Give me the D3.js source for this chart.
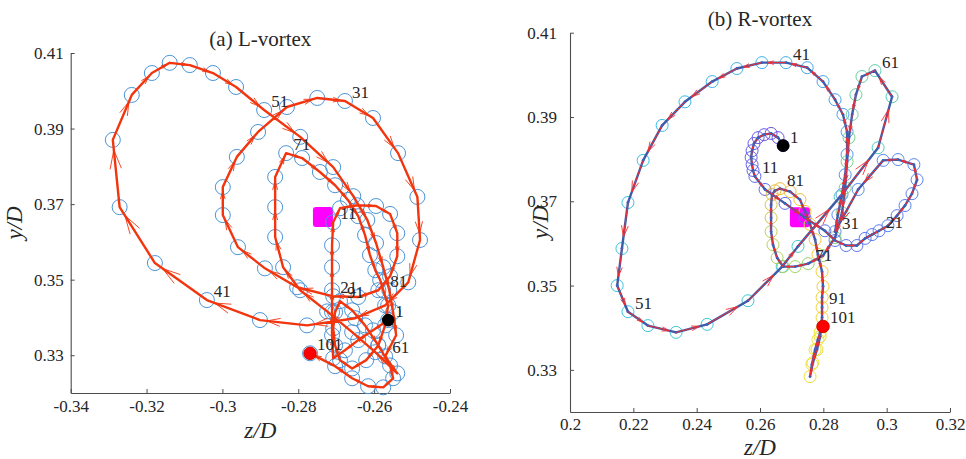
<!DOCTYPE html>
<html>
<head>
<meta charset="utf-8">
<script src="https://cdn.jsdelivr.net/npm/d3@7"></script>
<style>
  body { margin: 0; background: #fff; }
  svg text { font-family: "Liberation Serif", "Times New Roman", serif; fill: #262626; }
</style>
</head>
<body>
<div id="chart"></div>
<script>
// ---- data: vortex centre track, 101 snapshots per panel ----
const leftZ = [
  -0.2563, -0.2603, -0.2642, -0.2677, -0.2708, -0.2711, -0.2711, -0.2711, -0.2711, -0.2711,
  -0.2708, -0.2690, -0.2645, -0.2595, -0.2558, -0.2539, -0.2539, -0.2558, -0.2589, -0.2642,
  -0.2708, -0.2803, -0.2888, -0.2959, -0.2999, -0.2999, -0.2962, -0.2906, -0.2830, -0.2750,
  -0.2677, -0.2603, -0.2537, -0.2486, -0.2479, -0.2510, -0.2571, -0.2650, -0.2777, -0.2901,
  -0.3041, -0.3178, -0.3271, -0.3289, -0.3239, -0.3186, -0.3139, -0.3086, -0.3025, -0.2964,
  -0.2890, -0.2795, -0.2708, -0.2655, -0.2618, -0.2595, -0.2576, -0.2560, -0.2550, -0.2542,
  -0.2571, -0.2539, -0.2597, -0.2658, -0.2724, -0.2795, -0.2840, -0.2861, -0.2861, -0.2861,
  -0.2832, -0.2790, -0.2743, -0.2703, -0.2669, -0.2642, -0.2624, -0.2611, -0.2597, -0.2584,
  -0.2576, -0.2563, -0.2571, -0.2589, -0.2621, -0.2658, -0.2690, -0.2703, -0.2708, -0.2703,
  -0.2690, -0.2658, -0.2624, -0.2589, -0.2558, -0.2550, -0.2576, -0.2616, -0.2658, -0.2703,
  -0.2769
];
const leftY = [
  0.3393, 0.3366, 0.3340, 0.3313, 0.3292, 0.3353, 0.3414, 0.3472, 0.3533, 0.3591,
  0.3652, 0.3689, 0.3697, 0.3695, 0.3674, 0.3623, 0.3562, 0.3509, 0.3472, 0.3454,
  0.3456, 0.3480, 0.3530, 0.3586, 0.3671, 0.3745, 0.3825, 0.3891, 0.3957, 0.3981,
  0.3973, 0.3928, 0.3835, 0.3719, 0.3605, 0.3493, 0.3432, 0.3398, 0.3379, 0.3393,
  0.3446, 0.3544, 0.3692, 0.3870, 0.3989, 0.4047, 0.4074, 0.4068, 0.4047, 0.4010,
  0.3949, 0.3878, 0.3798, 0.3721, 0.3658, 0.3597, 0.3533, 0.3472, 0.3414, 0.3353,
  0.3297, 0.3252, 0.3308, 0.3361, 0.3416, 0.3472, 0.3533, 0.3613, 0.3692, 0.3772,
  0.3835, 0.3822, 0.3785, 0.3750, 0.3711, 0.3668, 0.3618, 0.3565, 0.3525, 0.3499,
  0.3472, 0.3432, 0.3379, 0.3326, 0.3287, 0.3265, 0.3287, 0.3326, 0.3371, 0.3414,
  0.3443, 0.3419, 0.3379, 0.3326, 0.3273, 0.3239, 0.3215, 0.3218, 0.3239, 0.3271,
  0.3305
];
const rightZ = [
  0.2673, 0.2657, 0.2635, 0.2613, 0.2594, 0.2581, 0.2575, 0.2572, 0.2575, 0.2578,
  0.2584, 0.2616, 0.2679, 0.2742, 0.2805, 0.2837, 0.2872, 0.2906, 0.2932, 0.2954,
  0.2976, 0.3004, 0.3033, 0.3058, 0.3080, 0.3096, 0.3086, 0.3036, 0.2989, 0.2910,
  0.2837, 0.2846, 0.2859, 0.2869, 0.2875, 0.2875, 0.2862, 0.2837, 0.2799, 0.2749,
  0.2682, 0.2606, 0.2527, 0.2449, 0.2363, 0.2291, 0.2231, 0.2183, 0.2164, 0.2149,
  0.2183, 0.2246, 0.2335, 0.2433, 0.2562, 0.2670, 0.2720, 0.2853, 0.2973, 0.3017,
  0.2963, 0.2922, 0.2903, 0.2891, 0.2881, 0.2875, 0.2869, 0.2859, 0.2837, 0.2799,
  0.2752, 0.2711, 0.2673, 0.2654, 0.2641, 0.2635, 0.2635, 0.2635, 0.2638, 0.2647,
  0.2663, 0.2695, 0.2726, 0.2742, 0.2758, 0.2774, 0.2783, 0.2796, 0.2799, 0.2796,
  0.2796, 0.2796, 0.2790, 0.2780, 0.2767, 0.2758, 0.2764, 0.2774, 0.2783, 0.2790,
  0.2799
];
const rightY = [
  0.3832, 0.3851, 0.3861, 0.3858, 0.3851, 0.3837, 0.3820, 0.3804, 0.3787, 0.3773,
  0.3759, 0.3728, 0.3695, 0.3661, 0.3630, 0.3607, 0.3595, 0.3595, 0.3612, 0.3621,
  0.3630, 0.3642, 0.3666, 0.3690, 0.3718, 0.3751, 0.3787, 0.3799, 0.3797, 0.3728,
  0.3628, 0.3668, 0.3716, 0.3763, 0.3811, 0.3865, 0.3906, 0.3941, 0.3984, 0.4017,
  0.4029, 0.4029, 0.4015, 0.3984, 0.3936, 0.3880, 0.3797, 0.3697, 0.3588, 0.3500,
  0.3438, 0.3405, 0.3389, 0.3408, 0.3464, 0.3545, 0.3593, 0.3711, 0.3827, 0.3948,
  0.4010, 0.3996, 0.3953, 0.3906, 0.3851, 0.3794, 0.3732, 0.3673, 0.3614, 0.3571,
  0.3552, 0.3545, 0.3545, 0.3566, 0.3597, 0.3628, 0.3661, 0.3692, 0.3716, 0.3725,
  0.3730, 0.3723, 0.3704, 0.3676, 0.3645, 0.3609, 0.3574, 0.3533, 0.3498, 0.3472,
  0.3448, 0.3424, 0.3379, 0.3348, 0.3317, 0.3284, 0.3313, 0.3348, 0.3372, 0.3389,
  0.3403
];
const leftMean = [-0.2735, 0.3666];
const rightMean = [0.2726, 0.3662];
const labelSteps = [1, 11, 21, 31, 41, 51, 61, 71, 81, 91, 101];
const leftXTicks = [-0.34, -0.32, -0.3, -0.28, -0.26, -0.24];
const rightXTicks = [0.2, 0.22, 0.24, 0.26, 0.28, 0.3, 0.32];
const yTicks = [0.33, 0.35, 0.37, 0.39, 0.41];

const W = 966, H = 459;
const svg = d3.select("#chart").append("svg")
  .attr("width", W).attr("height", H)
  .style("display", "block");

// one panel = axes + track
function drawPanel(cfg) {
  const x = d3.scaleLinear().domain(cfg.xDomain).range([cfg.left, cfg.right]);
  const y = d3.scaleLinear().domain([0.32, 0.41]).range([cfg.bottom, cfg.top]);
  const g = svg.append("g");
  const pts = cfg.zs.map((z, i) => ({ i: i + 1, px: x(z), py: y(cfg.ys[i]) }));

  // axes (ticks pointing inward, no box)
  const xAxis = d3.axisBottom(x).tickValues(cfg.xTicks).tickSizeInner(-4).tickSizeOuter(0)
    .tickPadding(cfg.xPad).tickFormat(d => String(+d.toFixed(2)));
  const yAxis = d3.axisLeft(y).tickValues(yTicks).tickSizeInner(-4).tickSizeOuter(0)
    .tickPadding(cfg.yPad).tickFormat(d => String(+d.toFixed(2)));
  const gx = g.append("g").attr("transform", `translate(0,${cfg.bottom})`).call(xAxis);
  const gy = g.append("g").attr("transform", `translate(${cfg.left},0)`).call(yAxis);
  [gx, gy].forEach(a => {
    a.select(".domain").attr("stroke", "#4d4d4d").attr("stroke-width", 1.1);
    a.selectAll(".tick line").attr("stroke", "#4d4d4d");
    a.selectAll(".tick text").style("font-size", "17px").attr("fill", "#262626")
      .style("font-family", '"Liberation Serif", serif');
  });

  // mean position
  g.append("rect")
    .attr("x", x(cfg.mean[0]) - 10).attr("y", y(cfg.mean[1]) - 10)
    .attr("width", 20).attr("height", 20).attr("rx", 3)
    .attr("fill", "#ff00ff");

  // circles at every snapshot
  g.append("g").selectAll("circle").data(pts).enter().append("circle")
    .attr("cx", d => d.px).attr("cy", d => d.py).attr("r", cfg.ringR)
    .attr("fill", "none")
    .attr("stroke", d => cfg.ringColor(d.i))
    .attr("stroke-width", 1);

  // track line
  const line = d3.line().x(d => d.px).y(d => d.py);
  g.append("path").datum(pts).attr("d", line)
    .attr("fill", "none").attr("stroke", cfg.lineColor)
    .attr("stroke-width", cfg.lineW).attr("stroke-linejoin", "round");

  if (cfg.dots) {
    g.append("g").selectAll("circle").data(pts).enter().append("circle")
      .attr("cx", d => d.px).attr("cy", d => d.py).attr("r", 1.4)
      .attr("fill", cfg.dots);
  }

  // quiver arrows (matlab-style open head)
  const arr = [];
  for (let k = 0; k < pts.length - 1; k++) {
    const a = pts[k], b = pts[k + 1];
    const u = (b.px - a.px) * cfg.qScale, v = (b.py - a.py) * cfg.qScale;
    const tx = a.px + u, ty = a.py + v;
    const al = 0.33, be = 0.3;
    arr.push(`M${a.px},${a.py}L${tx},${ty}` +
      `M${tx - al * (u + be * v)},${ty - al * (v - be * u)}L${tx},${ty}` +
      `L${tx - al * (u - be * v)},${ty - al * (v + be * u)}`);
  }
  g.append("path").attr("d", arr.join(""))
    .attr("fill", "none").attr("stroke", cfg.arrowColor).attr("stroke-width", 0.9);

  // start / end
  const p0 = pts[0], pN = pts[pts.length - 1];
  g.append("circle").attr("cx", p0.px).attr("cy", p0.py).attr("r", 6.3).attr("fill", "#000");
  g.append("circle").attr("cx", pN.px).attr("cy", pN.py).attr("r", 6.3)
    .attr("fill", "#ff0000").attr("stroke", "#c00000").attr("stroke-width", 0.8);

  // step labels
  g.append("g").selectAll("text").data(labelSteps).enter().append("text")
    .attr("x", d => pts[d - 1].px + 7).attr("y", d => pts[d - 1].py - 9)
    .attr("dy", "0.35em").style("font-size", "17px").text(d => d);

  // titles
  g.append("text").attr("x", (cfg.left + cfg.right) / 2).attr("y", cfg.titleY)
    .attr("text-anchor", "middle").style("font-size", "21px").text(cfg.title);
  g.append("text").attr("x", (cfg.left + cfg.right) / 2).attr("y", cfg.xLabelY)
    .attr("text-anchor", "middle").style("font-size", "23px").style("font-style", "italic")
    .text("z/D");
  g.append("text")
    .attr("transform", `translate(${cfg.yLabelX},${(cfg.top + cfg.bottom) / 2}) rotate(-90)`)
    .attr("text-anchor", "middle").style("font-size", "23px").style("font-style", "italic")
    .text("y/D");
}

// circle colour along time, parula-like
const parula = d3.scaleLinear()
  .domain([0, 0.18, 0.32, 0.45, 0.55, 0.63, 0.72, 0.8, 0.9, 1])
  .range(["#6a50e0", "#5b78f0", "#5a90f0", "#35bde6", "#3ec9d2", "#6fd296", "#a6d462", "#f0bc3c", "#f0d43a", "#eeea2a"]);

drawPanel({
  xDomain: [-0.34, -0.24], xTicks: leftXTicks,
  left: 70.7, right: 450, top: 53, bottom: 393,
  zs: leftZ, ys: leftY, mean: leftMean,
  ringR: 7.5, ringColor: () => "#4a94d8",
  lineColor: "#f2360f", lineW: 2.4, dots: null,
  arrowColor: "#f2360f", qScale: 0.85,
  xPad: 7, yPad: 7,
  title: "(a) L-vortex", titleY: 46, xLabelY: 438, yLabelX: 22
});

drawPanel({
  xDomain: [0.2, 0.32], xTicks: rightXTicks,
  left: 570, right: 950, top: 32.7, bottom: 412,
  zs: rightZ, ys: rightY, mean: rightMean,
  ringR: 6, ringColor: i => parula((i - 1) / 100),
  lineColor: "#3f5aa6", lineW: 2.4, dots: "#2f62c0",
  arrowColor: "#ff2a2a", qScale: 0.75,
  xPad: 6, yPad: 13,
  title: "(b) R-vortex", titleY: 26, xLabelY: 455, yLabelX: 548
});
</script>
</body>
</html>
